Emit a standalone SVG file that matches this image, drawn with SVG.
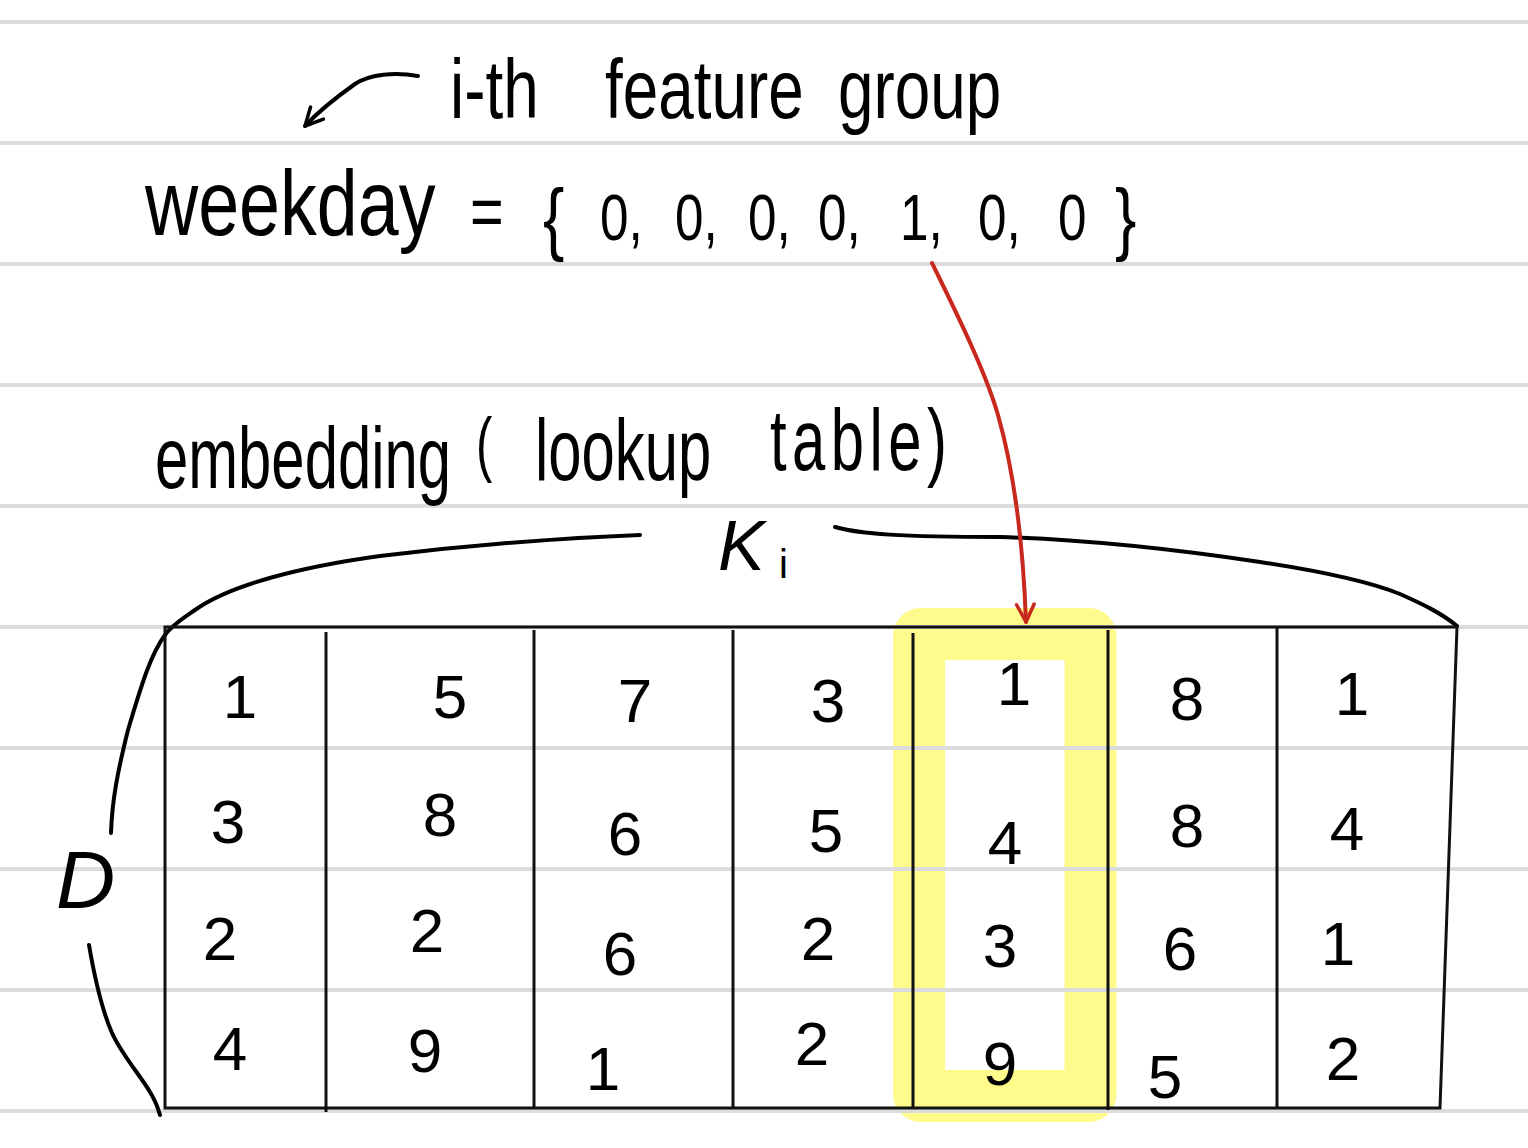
<svg xmlns="http://www.w3.org/2000/svg" width="1528" height="1148" viewBox="0 0 1528 1148">
<style>
.rule{stroke:#DCDCDC;stroke-width:4}
.ink{fill:none;stroke:#000;stroke-width:4;stroke-linecap:round;stroke-linejoin:round}
.tbl{fill:none;stroke:#111;stroke-width:3}
.hand{font-family:"Liberation Sans",Arial,sans-serif;fill:#000}
.digit{font-family:"Liberation Sans",Arial,sans-serif;fill:#000;font-size:62px;text-anchor:middle}
.red{fill:none;stroke:#C8281E;stroke-width:4;stroke-linecap:round;stroke-linejoin:round}
</style>
<defs>
<marker id="arrowRed" viewBox="0 0 10 10" markerUnits="userSpaceOnUse" markerWidth="22" markerHeight="22" refX="9" refY="5" orient="auto">
<path d="M1,1 L9,5 L1,9" fill="none" stroke="#C8281E" stroke-width="1.6" stroke-linecap="round" stroke-linejoin="round"/>
</marker>
<marker id="arrowBlack" viewBox="0 0 10 10" markerUnits="userSpaceOnUse" markerWidth="22" markerHeight="22" refX="9" refY="5" orient="auto">
<path d="M1,1 L9,5 L1,9" fill="none" stroke="#000" stroke-width="1.6" stroke-linecap="round" stroke-linejoin="round"/>
</marker>
</defs>
<rect width="1528" height="1148" fill="#FFFFFF"/>
<g id="highlight">
<rect x="919" y="634" width="171.5" height="462" rx="2" fill="none" stroke="#FFFA8C" stroke-width="52" stroke-linejoin="round"/>
</g>
<g id="ruled-lines">
<line class="rule" x1="0" y1="22" x2="1528" y2="22"/>
<line class="rule" x1="0" y1="143" x2="1528" y2="143"/>
<line class="rule" x1="0" y1="264" x2="1528" y2="264"/>
<line class="rule" x1="0" y1="385" x2="1528" y2="385"/>
<line class="rule" x1="0" y1="506" x2="1528" y2="506"/>
<line class="rule" x1="0" y1="627" x2="1528" y2="627"/>
<line class="rule" x1="0" y1="748" x2="1528" y2="748"/>
<line class="rule" x1="0" y1="869" x2="1528" y2="869"/>
<line class="rule" x1="0" y1="990" x2="1528" y2="990"/>
<line class="rule" x1="0" y1="1111" x2="1528" y2="1111"/>
</g>
<g id="label-feature-group">
<text class="hand" transform="scale(0.76 1)" font-size="84"><tspan x="592.1" y="118">i-th</tspan> <tspan x="796.1" y="118">feature</tspan> <tspan x="1102.6" y="118">group</tspan></text>
</g>
<g id="weekday-vector">
<text class="hand" transform="scale(0.8 1)" font-size="92"><tspan x="181.25" y="235">weekday</tspan> <tspan x="587.5" y="236" font-size="72">=</tspan> <tspan x="678.75" y="245" font-size="80">{</tspan> <tspan x="750" y="240" font-size="64">0,</tspan> <tspan x="843.75" y="240" font-size="64">0,</tspan> <tspan x="935" y="240" font-size="64">0,</tspan> <tspan x="1022.5" y="240" font-size="64">0,</tspan> <tspan x="1125" y="240" font-size="64">1,</tspan> <tspan x="1222.5" y="240" font-size="64">0,</tspan> <tspan x="1322.5" y="240" font-size="64">0</tspan> <tspan x="1393.75" y="245" font-size="80">}</tspan></text>
</g>
<g id="embedding-title">
<text class="hand" transform="scale(0.68 1)" font-size="88"><tspan x="227.9" y="488">embedding</tspan> <tspan x="700" y="468" font-size="72">(</tspan> <tspan x="786.8" y="480">lookup</tspan> <tspan x="1132.4" y="470" letter-spacing="8">table)</tspan></text>
</g>
<g id="Ki-brace">
<path class="ink" d="M640,535 C560,538 470,545 380,556 C300,567 230,585 195,610 C185,617 172,625 165,635"/>
<path class="ink" d="M835,527 C860,534 900,537 1000,537 C1100,540 1200,553 1260,562 C1320,571 1370,582 1400,594 C1420,603 1440,612 1457,626"/>
<text class="hand" x="718" y="570" font-size="70" font-style="italic">K<tspan x="779" y="578" font-size="40" font-style="normal">i</tspan></text>
</g>
<g id="D-brace">
<path class="ink" d="M165,635 C150,655 140,690 128,730 C118,770 112,800 111,833"/>
<path class="ink" d="M89,945 C95,980 102,1010 112,1033 C122,1055 140,1075 150,1092 C155,1100 158,1108 160,1115"/>
<text class="hand" x="56" y="908" font-size="82" font-style="italic">D</text>
</g>
<g id="table">
<path class="tbl" d="M165,627 L1457,627 L1440,1108 L165,1108 Z"/>
<line class="tbl" x1="326" y1="632" x2="326" y2="1112"/>
<line class="tbl" x1="534" y1="630" x2="534" y2="1108"/>
<line class="tbl" x1="733" y1="630" x2="733" y2="1108"/>
<line class="tbl" x1="913" y1="633" x2="913" y2="1108"/>
<line class="tbl" x1="1108" y1="630" x2="1108" y2="1110"/>
<line class="tbl" x1="1277" y1="628" x2="1277" y2="1108"/>
<g id="row1">
<text class="digit" x="240" y="718">1</text>
<text class="digit" x="450" y="718">5</text>
<text class="digit" x="635" y="722">7</text>
<text class="digit" x="828" y="722">3</text>
<text class="digit" x="1014" y="705">1</text>
<text class="digit" x="1187" y="720">8</text>
<text class="digit" x="1352" y="715">1</text>
</g>
<g id="row2">
<text class="digit" x="228" y="843">3</text>
<text class="digit" x="440" y="836">8</text>
<text class="digit" x="625" y="855">6</text>
<text class="digit" x="826" y="852">5</text>
<text class="digit" x="1005" y="864">4</text>
<text class="digit" x="1187" y="847">8</text>
<text class="digit" x="1347" y="850">4</text>
</g>
<g id="row3">
<text class="digit" x="220" y="960">2</text>
<text class="digit" x="427" y="952">2</text>
<text class="digit" x="620" y="975">6</text>
<text class="digit" x="818" y="960">2</text>
<text class="digit" x="1000" y="967">3</text>
<text class="digit" x="1180" y="970">6</text>
<text class="digit" x="1338" y="965">1</text>
</g>
<g id="row4">
<text class="digit" x="230" y="1070">4</text>
<text class="digit" x="425" y="1072">9</text>
<text class="digit" x="603" y="1090">1</text>
<text class="digit" x="812" y="1065">2</text>
<text class="digit" x="1000" y="1085">9</text>
<text class="digit" x="1165" y="1098">5</text>
<text class="digit" x="1343" y="1080">2</text>
</g>
</g>
<g id="connectors">
<path class="red" d="M932,263 C955,310 985,370 998,415 C1015,475 1023,540 1026,622" marker-end="url(#arrowRed)"/>
<path class="ink" d="M418,76 C395,72 370,74 355,84 C338,96 318,112 305,126" marker-end="url(#arrowBlack)"/>
</g>
</svg>
